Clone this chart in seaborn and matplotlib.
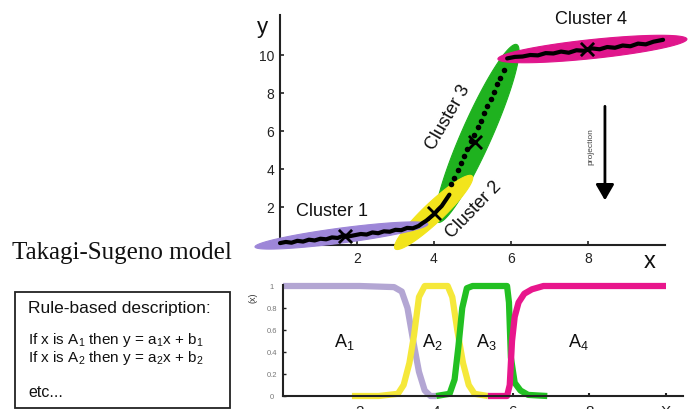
import numpy as np
import pandas as pd
import matplotlib
matplotlib.use("Agg")
import matplotlib.pyplot as plt
import seaborn as sns
from matplotlib.patches import Polygon, Rectangle

sns.set_theme(style="white")
plt.rcParams['font.family'] = ['Liberation Sans', 'DejaVu Sans']
plt.rcParams['mathtext.default'] = 'regular'

# ---------------- data ----------------
cluster_names = ["Cluster 1", "Cluster 2", "Cluster 3", "Cluster 4"]
cluster_colors = ["#9d86d8", "#f2e41c", "#1fb21f", "#e0168c"]
cluster_tip_a = [(-0.65, -0.10), (2.99, -0.20), (4.10, 1.20), (5.66, 9.79)]
cluster_tip_b = [(3.84, 1.10), (4.99, 3.63), (6.15, 10.55), (10.57, 10.84)]
cluster_halfwidth_px = [7.5, 10, 15, 9.5]
cluster_center_x = [1.7, 4.0, 5.07, 7.97]
cluster_center_y = [0.5, 1.7, 5.4, 10.3]

dense_x1 = [0.0, 0.15, 0.3, 0.45, 0.6, 0.75, 0.9, 1.05, 1.2, 1.35, 1.5, 1.65, 1.8,
            1.95, 2.1, 2.25, 2.4, 2.55, 2.7, 2.85, 3.0, 3.15, 3.3, 3.45, 3.6, 3.7,
            3.8, 3.9, 4.0, 4.1, 4.2, 4.3, 4.4]
dense_y1 = [0.10, 0.16, 0.12, 0.22, 0.18, 0.28, 0.24, 0.33, 0.30, 0.40, 0.37, 0.50,
            0.46, 0.52, 0.58, 0.55, 0.66, 0.62, 0.72, 0.70, 0.80, 0.78, 0.90, 0.88,
            1.00, 1.15, 1.28, 1.45, 1.62, 1.85, 2.05, 2.35, 2.65]
dense_x4 = [5.9, 6.1, 6.3, 6.5, 6.7, 6.9, 7.1, 7.3, 7.5, 7.7, 7.9, 8.1, 8.3, 8.5,
            8.7, 8.9, 9.1, 9.3, 9.5, 9.7, 9.95]
dense_y4 = [9.82, 9.90, 9.92, 10.00, 9.98, 10.10, 10.08, 10.18, 10.12, 10.25, 10.22,
            10.35, 10.30, 10.42, 10.38, 10.50, 10.46, 10.60, 10.56, 10.70, 10.80]
dot_x = [4.45, 4.53, 4.62, 4.70, 4.79, 4.87, 4.96, 5.04, 5.13, 5.21, 5.30, 5.38,
         5.47, 5.55, 5.64, 5.72, 5.81]
dot_y = [3.2, 3.55, 3.95, 4.3, 4.7, 5.05, 5.45, 5.8, 6.2, 6.55, 6.95, 7.3, 7.7,
         8.05, 8.45, 8.8, 9.2]

mf_names = ["A1", "A2", "A3", "A4"]
mf_labels = ["A$_1$", "A$_2$", "A$_3$", "A$_4$"]
mf_colors = ["#b3a6d3", "#f5e83a", "#22c022", "#e8168c"]
mf_x = {
    "A1": [0.0, 1.0, 2.0, 2.9, 3.1, 3.25, 3.4, 3.55, 3.7, 3.85, 4.0],
    "A2": [1.8, 2.5, 3.0, 3.15, 3.3, 3.42, 3.55, 3.7, 4.3, 4.42, 4.55, 4.7, 4.85, 5.0, 5.35],
    "A3": [4.0, 4.35, 4.48, 4.58, 4.68, 4.8, 4.95, 5.85, 5.9, 5.95, 6.05, 6.2, 6.4, 6.9],
    "A4": [5.35, 5.85, 5.92, 5.98, 6.05, 6.15, 6.3, 6.5, 6.8, 8.0, 10.0],
}
mf_y = {
    "A1": [1, 1, 1, 0.99, 0.95, 0.8, 0.5, 0.22, 0.05, 0.0, 0.0],
    "A2": [0, 0, 0.02, 0.1, 0.3, 0.55, 0.9, 1, 1, 0.9, 0.6, 0.3, 0.1, 0.02, 0],
    "A3": [0, 0.02, 0.15, 0.45, 0.8, 0.98, 1, 1, 0.85, 0.35, 0.12, 0.05, 0.01, 0],
    "A4": [0, 0, 0.1, 0.5, 0.72, 0.85, 0.93, 0.97, 1, 1, 1],
}
mf_label_x = [1.6, 3.9, 5.3, 7.7]
mf_label_y = [0.5, 0.5, 0.5, 0.5]

top_xticks = [2, 4, 6, 8]
top_yticks = [2, 4, 6, 8, 10]
bot_xticks = [2, 4, 6, 8, 10]
bot_xticklabels = ["2", "4", "6", "8", "X"]
bot_yticks = [0, 0.2, 0.4, 0.6, 0.8, 1]
bot_yticklabels = ["0", "0.2", "0.4", "0.6", "0.8", "1"]

# ---------------- figure ----------------
W, H = 694, 410
fig = plt.figure(figsize=(W / 100, H / 100), dpi=100)


def ptext(px, py, s, **kw):
    return fig.text(px / W, 1 - py / H, s, **kw)


def add_axes_px(L, T, R, B):
    return fig.add_axes([L / W, 1 - B / H, (R - L) / W, (B - T) / H])


# top axes: x px = 280 + 38.5*x ; y px = 246 - 19*y
SX, SY = 38.5, 19.0
ax1 = add_axes_px(240, 0, 694, 280)
ax1.set_xlim((240 - 280) / SX, (694 - 280) / SX)
ax1.set_ylim((246 - 280) / SY, (246 - 0) / SY)
ax1.patch.set_alpha(0)


def ellipse_poly(a, b, hw_px, n=120):
    a = np.array(a, float)
    b = np.array(b, float)
    c = (a + b) / 2
    half = (b - a) / 2
    hp = half * np.array([SX, SY])
    perp = np.array([-hp[1], hp[0]]) / np.hypot(*hp) * hw_px
    perp_d = perp / np.array([SX, SY])
    t = np.linspace(0, 2 * np.pi, n)
    return c + np.outer(np.cos(t), half) + np.outer(np.sin(t), perp_d)


order = [2, 1, 0, 3]
for z, i in enumerate(order):
    poly = Polygon(ellipse_poly(cluster_tip_a[i], cluster_tip_b[i], cluster_halfwidth_px[i]),
                   closed=True, facecolor=cluster_colors[i], edgecolor=cluster_colors[i],
                   lw=0.8, zorder=1 + z)
    ax1.add_patch(poly)

df1 = pd.DataFrame({"x": dense_x1, "y": dense_y1})
df4 = pd.DataFrame({"x": dense_x4, "y": dense_y4})
sns.lineplot(data=df1, x="x", y="y", sort=False, estimator=None, color="black",
             lw=3.0, ax=ax1, zorder=10)
sns.lineplot(data=df4, x="x", y="y", sort=False, estimator=None, color="black",
             lw=3.0, ax=ax1, zorder=10)
sns.scatterplot(x=dot_x, y=dot_y, color="black", s=16, linewidth=0, ax=ax1, zorder=10)
sns.scatterplot(x=cluster_center_x, y=cluster_center_y, marker="x", color="black",
                s=90, linewidth=2, ax=ax1, zorder=11)

for s in ["top", "right"]:
    ax1.spines[s].set_visible(False)
ax1.spines["left"].set_position(("data", 0))
ax1.spines["bottom"].set_position(("data", 0))
ax1.spines["left"].set_bounds(0, 12.1)
ax1.spines["bottom"].set_bounds(0, 10)
for s in ["left", "bottom"]:
    ax1.spines[s].set_color("#222222")
    ax1.spines[s].set_linewidth(1.5)
    ax1.spines[s].set_zorder(0.5)
ax1.set_xticks(top_xticks)
ax1.set_yticks(top_yticks)
ax1.set_xticklabels([str(v) for v in top_xticks])
ax1.set_yticklabels([str(v) for v in top_yticks])
ax1.tick_params(bottom=True, left=True, direction="in", length=3, width=1.2,
                labelsize=10, pad=4, colors="#222222")
ax1.set_xlabel("")
ax1.set_ylabel("")

ax1.annotate("", xy=(8.44, 2.35), xytext=(8.44, 7.3),
             arrowprops=dict(arrowstyle="-|>,head_length=0.95,head_width=0.55",
                             lw=2, color="black", mutation_scale=10, shrinkA=0, shrinkB=0))

# bottom axes: x px = 283 + 38.3*x ; y px = 397 - 110*y
BX, BY = 38.3, 110.0
ax2 = add_axes_px(270, 278, 694, 410)
ax2.set_xlim((270 - 283) / BX, (694 - 283) / BX)
ax2.set_ylim((397 - 410) / BY, (397 - 278) / BY)
ax2.patch.set_alpha(0)

for name, col in zip(mf_names, mf_colors):
    d = pd.DataFrame({"x": mf_x[name], "y": mf_y[name]})
    sns.lineplot(data=d, x="x", y="y", sort=False, estimator=None, color=col,
                 lw=4.5, ax=ax2, solid_capstyle="butt")
for lab, lx, ly in zip(mf_labels, mf_label_x, mf_label_y):
    ax2.text(lx, ly, lab, fontsize=13, ha="center", va="center", color="#111111")

for s in ["top", "right"]:
    ax2.spines[s].set_visible(False)
ax2.spines["left"].set_position(("data", 0))
ax2.spines["bottom"].set_position(("data", 0))
ax2.spines["left"].set_bounds(0, 1.01)
ax2.spines["bottom"].set_bounds(0, 10.45)
for s in ["left", "bottom"]:
    ax2.spines[s].set_color("#222222")
    ax2.spines[s].set_linewidth(1.5)
ax2.set_xticks(bot_xticks)
ax2.set_xticklabels(bot_xticklabels)
ax2.set_yticks(bot_yticks)
ax2.set_yticklabels(bot_yticklabels)
ax2.tick_params(axis="x", bottom=True, direction="in", length=2, width=1.5,
                labelsize=11, pad=6, colors="#222222")
ax2.tick_params(axis="y", left=True, direction="in", length=2, width=1,
                labelsize=5.5, pad=8, labelcolor="#777777", color="#222222")
for t in ax2.get_yticklabels():
    t.set_ha("center")
ax2.set_xlabel("")
ax2.set_ylabel("")

# ---------------- annotations ----------------
ptext(262, 28, "y", fontsize=16, ha="center", va="center", color="#111111")
ptext(650, 262, "x", fontsize=17, ha="center", va="center", color="#111111")
ptext(332, 212, "Cluster 1", fontsize=13, ha="center", va="center", color="#111111")
ptext(474, 210, "Cluster 2", fontsize=13, ha="center", va="center", rotation=46,
      rotation_mode="anchor", color="#111111")
ptext(448, 118, "Cluster 3", fontsize=13, ha="center", va="center", rotation=60,
      rotation_mode="anchor", color="#111111")
ptext(591, 20, "Cluster 4", fontsize=13, ha="center", va="center", color="#111111")
ptext(591, 147, "projection", fontsize=6, ha="center", va="center", rotation=90,
      color="#444444")
ptext(253, 298, "(x)", fontsize=6.5, ha="center", va="center", rotation=90,
      color="#333333")

ptext(12, 253, "Takagi-Sugeno model", fontsize=18, ha="left", va="center",
      family=["Liberation Serif", "DejaVu Serif"], color="#111111")

fig.add_artist(Rectangle((15 / W, 1 - 409 / H), (230 - 15) / W, (409 - 293) / H,
                         transform=fig.transFigure, fill=False, lw=1.3,
                         edgecolor="#222222"))
ptext(28, 309, "Rule-based description:", fontsize=12.5, ha="left", va="center",
      color="#111111")
ptext(28, 340, "If x is A$_1$ then y = a$_1$x + b$_1$", fontsize=11, ha="left",
      va="center", color="#111111")
ptext(28, 358, "If x is A$_2$ then y = a$_2$x + b$_2$", fontsize=11, ha="left",
      va="center", color="#111111")
ptext(28, 393, "etc...", fontsize=11.5, ha="left", va="center", color="#111111")

fig.savefig("out.png", dpi=100)
